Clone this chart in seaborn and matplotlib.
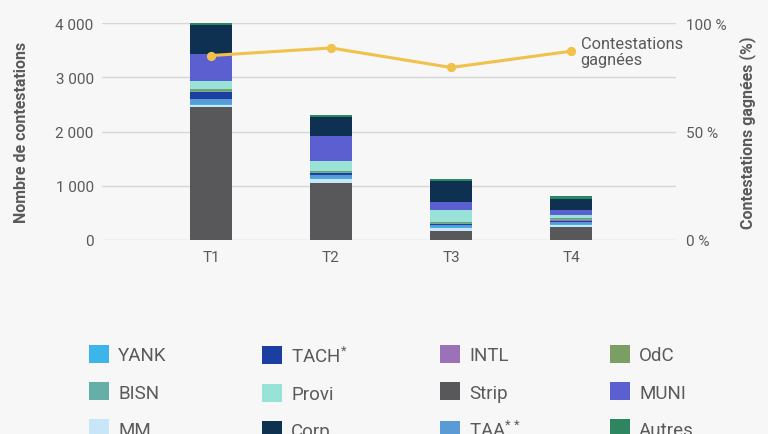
import numpy as np
import matplotlib
matplotlib.use("Agg")
import matplotlib.pyplot as plt
from matplotlib.patches import Patch
from matplotlib.ticker import FuncFormatter
import seaborn as sns

sns.set_theme(style="white")
plt.rcParams['font.family'] = ['Roboto', 'DejaVu Sans']
plt.rcParams['mathtext.fontset'] = 'custom'
plt.rcParams['mathtext.rm'] = 'Roboto'

#%% data
quarters = ["T1", "T2", "T3", "T4"]

# stack order, bottom -> top
stack_names = ["Strip", "MM", "YANK", "TAA", "TACH", "INTL", "BISN", "OdC",
               "Provi", "MUNI", "Corp", "Autres"]
Strip  = [2450, 1050, 170, 245]
MM     = [30, 80, 43, 37]
YANK   = [25, 20, 30, 15]
TAA    = [90, 40, 30, 40]
TACH   = [130, 37, 25, 20]
INTL   = [5, 5, 5, 5]
BISN   = [20, 19, 17, 17]
OdC    = [25, 30, 20, 20]
Provi  = [165, 172, 215, 55]
MUNI   = [480, 460, 154, 92]
Corp   = [547, 356, 387, 215]
Autres = [40, 37, 37, 43]
stack_values = [Strip, MM, YANK, TAA, TACH, INTL, BISN, OdC, Provi, MUNI, Corp, Autres]

pct_won = [85, 88.5, 79.5, 87]

colors = {"YANK": "#3bb5ea", "TACH": "#1a3fa0", "INTL": "#9b72b8", "OdC": "#7a9e63",
          "BISN": "#66aea8", "Provi": "#98e2d8", "Strip": "#58585a", "MUNI": "#5b5fcf",
          "MM": "#c8e6f8", "Corp": "#0f3151", "TAA": "#5b9bd5", "Autres": "#2e8660"}
labels = {"TACH": r"TACH$^{\mathrm{*}}$", "TAA": r"TAA$^{\mathrm{**}}$"}

# legend columns (as laid out in the reference)
legend_cols = [["YANK", "BISN", "MM"], ["TACH", "Provi", "Corp"],
               ["INTL", "Strip", "TAA"], ["OdC", "MUNI", "Autres"]]

#%% plot
bg = "#f7f7f7"
txt = "#5a5a5a"
fig = plt.figure(figsize=(7.68, 4.35), dpi=100, facecolor=bg)
ax = fig.add_axes([102/768, 1-241/435, 574/768, 217/435])
ax.set_facecolor(bg)

cum = np.cumsum(np.array(stack_values), axis=0)
for i in range(len(stack_names)-1, -1, -1):          # draw tallest first, then cover
    sns.barplot(x=quarters, y=cum[i], color=colors[stack_names[i]], width=0.35,
                saturation=1, linewidth=0, ax=ax, clip_on=False)

ax.set_ylim(0, 4000)
ax.set_yticks([0, 1000, 2000, 3000, 4000])
ax.yaxis.set_major_formatter(FuncFormatter(lambda v, p: f"{int(v):,}".replace(",", " ")))
ax.grid(axis="y", color="#d6d6d6", linewidth=1)
ax.set_axisbelow(True)
for s in ax.spines.values():
    s.set_visible(False)
ax.tick_params(axis="y", length=0, pad=6, labelsize=11, labelcolor=txt)
ax.tick_params(axis="x", length=3, width=1.5, color="#555555", pad=4, labelsize=11, labelcolor=txt)
ax.set_xlabel("")
ax.set_ylabel("Nombre de contestations", fontsize=11.5, fontweight="semibold", color=txt)
ax.yaxis.set_label_coords(-0.127, 0.5)

ax2 = ax.twinx()
sns.pointplot(x=quarters, y=pct_won, ax=ax2, color="#f0c14b", markers="o",
              markersize=5, linewidth=2.2, errorbar=None)
ax2.set_ylim(0, 100)
ax2.set_yticks([0, 50, 100])
ax2.set_yticklabels(["0 %", "50 %", "100 %"])
for s in ax2.spines.values():
    s.set_visible(False)
ax2.tick_params(axis="y", length=0, pad=7, labelsize=11, labelcolor=txt)
ax2.set_ylabel("Contestations gagnées (%)", fontsize=11.5, fontweight="semibold", color=txt)
ax2.yaxis.set_label_coords(1.11, 0.5)
ax2.annotate("Contestations\ngagnées", xy=(3, pct_won[3]), xytext=(7, 0),
             textcoords="offset points", va="center", ha="left",
             fontsize=11.8, color=txt, linespacing=1.1)
ax.set_xlim(-0.908, 3.875)
ax2.set_xlim(-0.908, 3.875)

# legend: one block per column so the column pitch is fixed
col_x = [89, 262, 440, 610]
for cx, names in zip(col_x, legend_cols):
    handles = [Patch(facecolor=colors[n], edgecolor="none") for n in names]
    fig.legend(handles, [labels.get(n, n) for n in names], loc="upper left",
               bbox_to_anchor=(cx/768, 1-346/435),
               frameon=False, fontsize=13.5, handlelength=1.05, handleheight=1.1,
               handletextpad=0.5, labelspacing=0.95, borderpad=0, borderaxespad=0,
               labelcolor=txt)

plt.savefig("out.png", dpi=100, facecolor=bg)
